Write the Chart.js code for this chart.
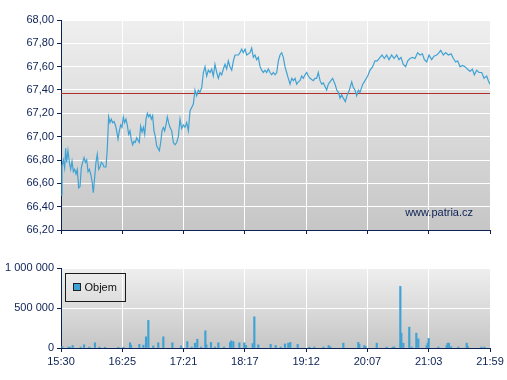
<!DOCTYPE html>
<html>
<head>
<meta charset="utf-8">
<script src="https://cdn.jsdelivr.net/npm/chart.js@4/dist/chart.umd.min.js"></script>
<style>
  html, body { margin: 0; padding: 0; background: #ffffff; }
  #wrap { position: relative; width: 507px; height: 380px; }
  #priceCanvas { position: absolute; left: 0; top: 0; }
  #volCanvas { position: absolute; left: 0; top: 240px; }
</style>
</head>
<body>
<div id="wrap">
  <canvas id="priceCanvas" width="507" height="240"></canvas>
  <canvas id="volCanvas" width="507" height="140"></canvas>
</div>
<script>
// ---- DATA ----
// minutes after 15:30
const priceMinutes = [0,0.9,2.1,3.3,4.2,5.1,6.3,7.6,8.8,10.0,11.2,12.4,13.6,14.8,16.0,17.2,18.4,19.6,20.9,22.1,23.3,24.5,25.7,26.9,28.1,29.3,30.5,31.7,32.9,34.2,35.4,36.6,37.8,39.0,40.8,42.0,43.2,44.4,45.6,46.9,48.1,49.3,50.5,51.7,52.9,54.1,55.3,56.5,57.7,58.9,60.1,61.4,62.6,63.8,65.0,66.2,67.4,68.6,69.8,71.0,72.2,73.5,74.7,75.9,77.1,78.3,79.5,80.7,81.9,83.1,84.3,85.5,86.8,88.0,89.2,90.4,91.6,92.8,94.0,95.2,96.4,97.6,
  98.8,100.4,101.9,103.4,104.9,106.4,107.9,109.4,110.9,112.4,114.0,115.5,117.0,118.5,120.0,121.5,123.0,124.5,126.0,127.6,129.1,130.6,132.1,133.6,135.1,136.6,138.1,139.6,141.2,142.7,144.2,145.7,147.2,148.7,150.2,151.7,153.2,154.8,156.3,157.8,159.3,160.8,162.3,163.8,165.3,166.9,168.4,169.9,171.4,172.9,174.4,175.9,177.4,178.9,180.5,182.0,183.5,185.0,186.5,188.0,189.5,191.0,192.5,194.1,195.6,197.1,198.6,200.1,201.6,203.1,204.6,206.1,207.7,209.2,210.7,212.2,213.7,215.2,216.7,218.2,219.7,221.3,222.8,224.3,225.8,227.3,228.8,230.3,231.8,233.3,234.9,236.4,237.9,239.4,240.9,242.4,243.9,
  246.3,248.5,250.0,251.5,253.0,254.5,256.0,257.8,259.6,261.5,263.6,265.1,266.6,268.1,269.6,271.1,273.6,275.7,278.1,280.2,282.6,284.7,286.8,289.3,291.1,293.2,295.3,297.4,299.8,302.0,304.4,306.5,308.3,310.4,312.5,314.4,316.5,318.6,321.0,323.4,325.5,327.7,329.5,331.6,333.7,336.1,338.2,340.7,342.8,344.3,346.7,348.8,351.2,353.7,355.8,357.9,359.7,361.8,364.2,366.3,368.5,370.9,373.0,374.8,376.9,379.0,381.5,383.6,386.0,387.5,389.0];
const priceValues = [66.50,66.75,66.80,66.73,66.90,66.78,66.88,66.78,66.72,66.79,66.70,66.72,66.68,66.72,66.56,66.57,66.73,66.78,66.82,66.78,66.80,66.70,66.72,66.68,66.62,66.52,66.65,66.78,66.85,66.72,66.74,66.78,66.77,66.74,66.74,66.90,67.17,67.12,67.15,67.12,67.13,67.10,67.05,66.98,67.05,67.10,67.08,67.17,67.12,67.15,67.10,67.02,67.05,66.97,66.93,66.96,66.95,66.99,66.97,66.95,67.09,67.04,67.08,67.02,67.15,67.20,67.17,67.19,67.15,67.18,67.05,67.00,66.92,66.90,66.88,66.95,67.05,67.08,67.05,67.10,67.17,67.12,
  67.08,67.05,66.95,66.93,66.95,67.00,67.15,67.07,67.10,67.08,67.12,67.05,67.22,67.25,67.28,67.40,67.35,67.40,67.38,67.42,67.55,67.60,67.52,67.57,67.55,67.58,67.52,67.62,67.55,67.50,67.55,67.53,67.58,67.62,67.58,67.65,67.60,67.57,67.65,67.70,67.70,67.70,67.72,67.75,67.72,67.75,67.70,67.71,67.72,67.76,67.68,67.70,67.66,67.68,67.60,67.57,67.55,67.57,67.55,67.58,67.55,67.53,67.55,67.53,67.55,67.65,67.70,67.72,67.68,67.60,67.55,67.50,67.45,67.50,67.48,67.50,67.45,67.47,67.48,67.52,67.50,67.53,67.55,67.52,67.50,67.49,67.48,67.50,67.50,67.55,67.48,67.45,67.46,67.43,67.40,67.45,67.47,
  67.50,67.45,67.40,67.38,67.33,67.36,67.33,67.30,67.36,67.40,67.47,67.42,67.40,67.35,67.40,67.38,67.45,67.48,67.52,67.57,67.60,67.65,67.65,67.68,67.70,67.67,67.70,67.66,67.70,67.67,67.70,67.66,67.68,67.62,67.60,67.65,67.67,67.68,67.67,67.72,67.70,67.71,67.66,67.64,67.70,67.66,67.69,67.70,67.72,67.74,67.70,67.72,67.70,67.71,67.67,67.64,67.65,67.60,67.61,67.60,67.58,67.56,67.58,67.53,67.57,67.55,67.55,67.50,67.52,67.48,67.45];
const previousClose = 67.37;

const volumeMinutes = [1.2,6.6,8.2,10.6,17.8,20.9,25.7,30.8,34.8,39.9,52.0,56.5,62.6,63.5,71.0,74.7,77.1,79.2,83.7,88.2,92.8,101.0,108.8,114.5,118.5,121.5,123.6,127.0,130.9,131.8,136.0,139.6,142.7,147.8,153.3,154.4,156.3,161.7,166.2,167.8,173.8,175.3,178.9,190.1,194.7,199.2,203.1,206.1,207.9,214.6,225.2,229.7,237.9,242.7,244.2,256.0,269.6,270.5,275.0,276.0,286.3,295.3,300.8,302.2,307.7,308.6,310.4,315.8,318.0,322.2,324.0,331.6,332.5,333.4,342.2,349.7,350.6,351.8,353.7,360.3,367.9,368.8,381.2,383.9];
const volumeValues = [17000,12000,12000,30000,12000,40000,12000,65000,12000,10000,10000,10000,65000,35000,45000,35000,140000,345000,25000,65000,140000,65000,25000,80000,12000,60000,110000,12000,215000,40000,70000,12000,65000,12000,70000,90000,80000,65000,65000,30000,55000,390000,40000,45000,30000,12000,50000,60000,70000,45000,12000,12000,12000,30000,15000,60000,70000,45000,30000,20000,60000,12000,12000,12000,770000,185000,60000,260000,12000,185000,115000,30000,60000,120000,12000,30000,60000,60000,15000,12000,60000,20000,12000,12000];
const volumeLabel = 'Objem';

const timeLabels = ['15:30','16:25','17:21','18:17','19:12','20:07','21:03','21:59'];
const sessionMinutes = 389;
const priceTicks = [66.2,66.4,66.6,66.8,67.0,67.2,67.4,67.6,67.8,68.0];
const volumeTicks = [0,500000,1000000];
const watermark = 'www.patria.cz';

// ---- STYLE ----
const NAVY = '#0c2154';
const BLUE = '#3fa2d4';
const FONT = { family: '"Liberation Sans", Arial, sans-serif', size: 11 };

const bgPlugin = {
  id: 'bg',
  beforeDraw(chart) {
    const { ctx, chartArea: a } = chart;
    const g = ctx.createLinearGradient(0, a.top, 0, a.bottom);
    g.addColorStop(0, '#efefef');
    g.addColorStop(1, '#c6c6c6');
    ctx.save();
    ctx.fillStyle = g;
    ctx.fillRect(a.left, a.top, a.right - a.left, a.bottom - a.top);
    ctx.restore();
  }
};

const timeTicks = (s) => { s.ticks = timeLabels.map((_, i) => ({ value: i * sessionMinutes / (timeLabels.length - 1) })); };

// ---- PRICE CHART ----
new Chart(document.getElementById('priceCanvas'), {
  type: 'line',
  data: {
    datasets: [
      { data: priceMinutes.map((m, i) => ({ x: m, y: priceValues[i] })), borderColor: BLUE, borderWidth: 1.2, pointRadius: 0, tension: 0, order: 1 },
      { data: [{ x: 0, y: previousClose }, { x: sessionMinutes, y: previousClose }], borderColor: '#b3302c', borderWidth: 1, pointRadius: 0, order: 2 }
    ]
  },
  options: {
    responsive: false, animation: false, devicePixelRatio: 1,
    layout: { padding: { top: 20, right: 17, left: 0, bottom: 0 } },
    plugins: { legend: { display: false }, tooltip: { enabled: false },
      watermarkText: {} },
    scales: {
      x: {
        type: 'linear', min: 0, max: sessionMinutes,
        afterBuildTicks: timeTicks,
        afterFit: (s) => { s.height = 10; },
        ticks: { callback: () => '', font: FONT },
        grid: { color: '#ffffff', lineWidth: 1, tickColor: NAVY, tickLength: 4 },
        border: { color: NAVY, width: 1 }
      },
      y: {
        min: 66.2, max: 68,
        afterBuildTicks: (s) => { s.ticks = priceTicks.map(v => ({ value: v })); },
        afterFit: (s) => { s.width = 61; },
        ticks: { color: NAVY, font: FONT, padding: 3, callback: (v) => Number(v).toFixed(2).replace('.', ',') },
        grid: { color: '#ffffff', lineWidth: 1, tickColor: NAVY, tickLength: 4 },
        border: { color: NAVY, width: 1 }
      }
    }
  },
  plugins: [bgPlugin, {
    id: 'watermarkText',
    beforeDatasetsDraw(chart) {
      const { ctx, chartArea: a } = chart;
      ctx.save();
      ctx.font = '11px "Liberation Sans", Arial, sans-serif';
      ctx.fillStyle = NAVY;
      ctx.textAlign = 'right';
      ctx.textBaseline = 'middle';
      ctx.fillText(watermark, a.right - 17, a.bottom - 17);
      ctx.restore();
    }
  }]
});

// ---- VOLUME CHART ----
new Chart(document.getElementById('volCanvas'), {
  type: 'bar',
  data: {
    datasets: [{ label: volumeLabel, data: volumeMinutes.map((m, i) => ({ x: m, y: volumeValues[i] })), backgroundColor: BLUE, barThickness: 1.5 }]
  },
  options: {
    responsive: false, animation: false, devicePixelRatio: 1,
    layout: { padding: { top: 28, right: 17, left: 0, bottom: 0 } },
    plugins: { legend: { display: false }, tooltip: { enabled: false } },
    scales: {
      x: {
        type: 'linear', min: 0, max: sessionMinutes, offset: false,
        afterBuildTicks: timeTicks,
        afterFit: (s) => { s.height = 32; },
        ticks: { color: NAVY, font: FONT, padding: 3, maxRotation: 0, autoSkip: false, callback: (v, i) => timeLabels[i] },
        grid: { color: '#ffffff', lineWidth: 1, tickColor: NAVY, tickLength: 4, offset: false },
        border: { color: NAVY, width: 1 }
      },
      y: {
        min: 0, max: 1000000,
        afterBuildTicks: (s) => { s.ticks = volumeTicks.map(v => ({ value: v })); },
        afterFit: (s) => { s.width = 61; },
        ticks: { color: NAVY, font: FONT, padding: 3, callback: (v) => String(v).replace(/\B(?=(\d{3})+(?!\d))/g, ' ') },
        grid: { color: '#ffffff', lineWidth: 1, tickColor: NAVY, tickLength: 4 },
        border: { color: NAVY, width: 1 }
      }
    }
  },
  plugins: [bgPlugin, {
    id: 'boxLegend',
    afterDraw(chart) {
      const { ctx, chartArea: a } = chart;
      const label = chart.data.datasets[0].label;
      ctx.save();
      const x = a.left + 4.5, y = a.top + 5.5;
      ctx.strokeStyle = '#1a1a1a';
      ctx.lineWidth = 1;
      ctx.strokeRect(x, y, 60, 28);
      ctx.fillStyle = BLUE;
      ctx.fillRect(x + 8, y + 10, 7, 7);
      ctx.strokeStyle = '#202020';
      ctx.strokeRect(x + 8, y + 10, 7, 7);
      ctx.font = '11px "Liberation Sans", Arial, sans-serif';
      ctx.fillStyle = '#111111';
      ctx.textBaseline = 'middle';
      ctx.fillText(label, x + 19, y + 14);
      ctx.restore();
    }
  }]
});
</script>
</body>
</html>
